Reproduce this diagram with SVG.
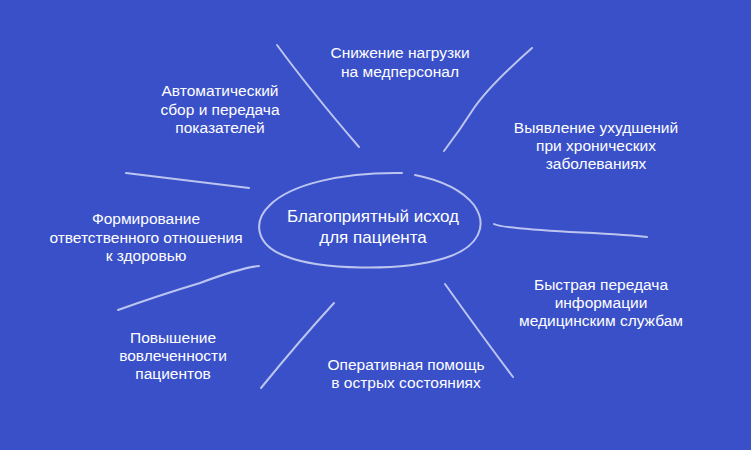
<svg xmlns="http://www.w3.org/2000/svg" width="751" height="450" viewBox="0 0 751 450">
<style>
.t{font-family:"Liberation Sans",Arial,sans-serif;font-size:15.5px;fill:#ffffff;text-anchor:middle}
.c{font-size:17px}
.l{fill:none;stroke:#bcc5f0;stroke-width:2;stroke-linecap:round}
</style>
<rect width="751" height="450" fill="#3950c9"/>
<g id="connectors">
<path class="l" d="M277,45 Q310,90 359,147"/>
<path class="l" d="M532,48 Q490,85 474,108 Q460,130 444,151"/>
<path class="l" d="M126,173 L249,188"/>
<path class="l" d="M494,224 Q500,228 570,232 Q620,234 647,237"/>
<path class="l" d="M259,266 Q240,268 200,283 Q160,295 118,310"/>
<path class="l" d="M334,303 Q300,340 261,388"/>
<path class="l" d="M445,284 Q485,340 513,377"/>
</g>
<g id="center">
<path class="l" d="M402,173 C340,172 290,185 270,205 C252,222 256,245 285,256 C320,270 400,272 445,258 C480,247 488,225 474,205 C462,190 440,180 415,175"/>
<text class="t c" x="373" y="222">Благоприятный исход</text>
<text class="t c" x="373" y="243">для пациента</text>
</g>
<g id="n1"><text class="t" x="400" y="58">Снижение нагрузки</text><text class="t" x="400" y="77">на медперсонал</text></g>
<g id="n2"><text class="t" x="220" y="96">Автоматический</text><text class="t" x="220" y="115">сбор и передача</text><text class="t" x="220" y="133">показателей</text></g>
<g id="n3"><text class="t" x="596" y="133">Выявление ухудшений</text><text class="t" x="596" y="151">при хронических</text><text class="t" x="596" y="169">заболеваниях</text></g>
<g id="n4"><text class="t" x="146" y="224">Формирование</text><text class="t" x="146" y="243">ответственного отношения</text><text class="t" x="146" y="261">к здоровью</text></g>
<g id="n5"><text class="t" x="601" y="290">Быстрая передача</text><text class="t" x="601" y="308">информации</text><text class="t" x="601" y="326">медицинским службам</text></g>
<g id="n6"><text class="t" x="173" y="343">Повышение</text><text class="t" x="173" y="361">вовлеченности</text><text class="t" x="173" y="379">пациентов</text></g>
<g id="n7"><text class="t" x="406" y="370">Оперативная помощь</text><text class="t" x="406" y="388">в острых состояниях</text></g>
</svg>
